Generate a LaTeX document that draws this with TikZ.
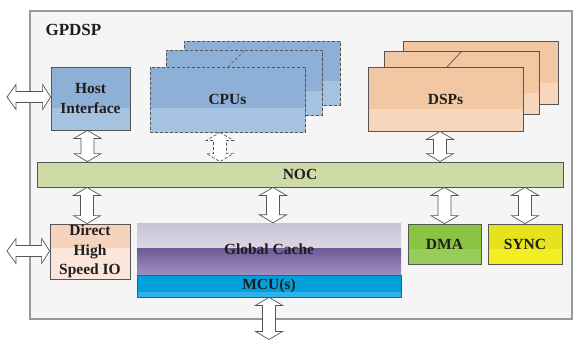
\documentclass[tikz,border=0pt]{standalone}
\usepackage{fontspec}
\setmainfont{Liberation Serif}
\usetikzlibrary{calc,shadows}
\definecolor{hostTop}{HTML}{8EB0D7}
\definecolor{hostBot}{HTML}{A5C2E1}
\definecolor{dspTop}{HTML}{F2C7A3}
\definecolor{dspBot}{HTML}{F6D6BC}
\definecolor{dhsTop}{HTML}{F5D3BD}
\definecolor{dhsBot}{HTML}{FAE6DA}
\definecolor{nocC}{HTML}{CFDAA9}
\definecolor{dmaTop}{HTML}{88C441}
\definecolor{dmaBot}{HTML}{96CC58}
\definecolor{syncTop}{HTML}{E6E21B}
\definecolor{syncBot}{HTML}{F2EE22}
\definecolor{mcuC}{HTML}{00A0DC}
\definecolor{mcuBand}{HTML}{2DB3EA}
\definecolor{purTop}{HTML}{6D5A98}
\definecolor{purBot}{HTML}{A090C0}
\definecolor{cacheTop}{HTML}{C8C3D6}
\definecolor{cacheBot}{HTML}{EFEFF1}
\definecolor{bgC}{HTML}{F5F5F5}
\definecolor{edgeC}{HTML}{555555}
\definecolor{txtC}{HTML}{1E1E1E}
\tikzset{
  box/.style={draw=edgeC, line width=0.8pt, inner sep=0pt, align=center,
    text=txtC, font=\bfseries\fontsize{15.5}{19.5}\selectfont,
    drop shadow={shadow xshift=1.3pt, shadow yshift=-1.3pt, opacity=0.22, fill=black}},
  twotone/.style n args={3}{fill=#1, path picture={\fill[#2]
    ($(path picture bounding box.south west)!#3!(path picture bounding box.north west)$)
    rectangle (path picture bounding box.south east);}},
  arrsty/.style={draw=edgeC, fill=white, line width=0.7pt, line join=miter},
  dsh/.style={dash pattern=on 3pt off 2pt},
}
\newcommand\varr[3][]{%
  \path[arrsty,#1] let \p1=(#2), \p2=(#3) in
    (\x1,\y1) -- ({\x1+13.5pt},{\y1-8pt}) -- ({\x1+6.5pt},{\y1-8pt})
    -- ({\x1+6.5pt},{\y2+8pt}) -- ({\x1+13.5pt},{\y2+8pt}) -- (\x1,\y2)
    -- ({\x1-13.5pt},{\y2+8pt}) -- ({\x1-6.5pt},{\y2+8pt})
    -- ({\x1-6.5pt},{\y1-8pt}) -- ({\x1-13.5pt},{\y1-8pt}) -- cycle;}
\newcommand\harr[3][]{%
  \path[arrsty,#1] let \p1=(#2), \p2=(#3) in
    (\x1,\y1) -- ({\x1+9pt},{\y1+12.5pt}) -- ({\x1+9pt},{\y1+5.5pt})
    -- ({\x2-8pt},{\y1+5.5pt}) -- ({\x2-8pt},{\y1+12.5pt}) -- (\x2,\y1)
    -- ({\x2-8pt},{\y1-12.5pt}) -- ({\x2-8pt},{\y1-5.5pt})
    -- ({\x1+9pt},{\y1-5.5pt}) -- ({\x1+9pt},{\y1-12.5pt}) -- cycle;}
\begin{document}
\begin{tikzpicture}[x=1pt,y=-1pt]
\useasboundingbox (0,0) rectangle (573,340);
% outer frame
\node[draw=black!40, line width=1.3pt, fill=bgC, inner sep=0pt,
  minimum width=542pt, minimum height=308pt] (frame) at (301,165) {};
\node[anchor=west, text=txtC, font=\bfseries\fontsize{17}{20}\selectfont] (title) at (42,30) {GPDSP};
% CPUs (dashed stack)
\node[box, dsh, twotone={hostTop}{hostBot}{0.37}, minimum width=156pt, minimum height=64pt] (cpu3) at (262,73) {};
\node[box, dsh, twotone={hostTop}{hostBot}{0.37}, minimum width=156pt, minimum height=65pt] (cpu2) at (244,82.5) {};
\node[box, dsh, twotone={hostTop}{hostBot}{0.37}, minimum width=155pt, minimum height=65pt] (cpu1) at (227.5,99.5) {CPUs};
\coordinate (cpud1) at (228,67);
\coordinate (cpud2) at (245,50);
\draw[edgeC, line width=0.7pt, dsh] (cpud1) -- (cpud2);
% DSPs stack
\node[box, twotone={dspTop}{dspBot}{0.34}, minimum width=155pt, minimum height=63pt] (dsp3) at (480.5,72.5) {};
\node[box, twotone={dspTop}{dspBot}{0.34}, minimum width=155pt, minimum height=63pt] (dsp2) at (461.5,82.5) {};
\node[box, twotone={dspTop}{dspBot}{0.34}, minimum width=155pt, minimum height=64pt] (dsp1) at (445.5,99) {DSPs};
\coordinate (dspd1) at (447,67);
\coordinate (dspd2) at (462,51);
\draw[edgeC, line width=0.7pt] (dspd1) -- (dspd2);
% Host interface
\node[box, twotone={hostTop}{hostBot}{0.35}, minimum width=79pt, minimum height=63pt] (host) at (90.5,98.5) {Host\\Interface};
% NOC
\node[box, fill=nocC, minimum width=526pt, minimum height=25pt] (noc) at (300,174.5) {NOC};
% Direct High Speed IO
\node[box, twotone={dhsTop}{dhsBot}{0.56}, minimum width=80pt, minimum height=55pt] (dhs) at (90,251.5) {Direct\\High\\Speed IO};
% Global cache
\node[inner sep=0pt, minimum width=264pt, minimum height=52pt, text=txtC,
  font=\bfseries\fontsize{15.5}{19.5}\selectfont,
  path picture={
    \shade[top color=cacheTop, bottom color=cacheBot]
      (path picture bounding box.north west) rectangle ($(path picture bounding box.east)+(0,1pt)$);
    \shade[top color=purTop, bottom color=purBot]
      ($(path picture bounding box.west)+(0,1pt)$) rectangle (path picture bounding box.south east);
  }] (cache) at (269,249) {Global Cache};
% MCU
\node[box, fill=mcuC, minimum width=264pt, minimum height=22pt,
  path picture={\fill[mcuBand] ($(path picture bounding box.south west)+(0,5pt)$) rectangle (path picture bounding box.south east);}] (mcu) at (269,286) {MCU(s)};
% DMA, SYNC
\node[box, twotone={dmaTop}{dmaBot}{0.38}, minimum width=73pt, minimum height=40pt] (dma) at (444.5,244) {DMA};
\node[box, twotone={syncTop}{syncBot}{0.38}, minimum width=74pt, minimum height=40pt] (sync) at (525,244) {SYNC};
% external coordinates
\coordinate (hostext) at (7,97);
\coordinate (dhsext) at (7,251);
\coordinate (mcuext) at (269,339.5);
% arrows
\harr{hostext}{hostext -| host.west}
\harr{dhsext}{dhsext -| dhs.west}
\varr{[xshift=-3pt]host.south}{[xshift=-3pt]host.south |- noc.north}
\varr[dsh]{[xshift=-7.5pt]cpu1.south}{[xshift=-7.5pt]cpu1.south |- noc.north}
\varr{[xshift=-5.5pt]dsp1.south}{[xshift=-5.5pt]dsp1.south |- noc.north}
\varr{[xshift=-3pt]dhs.north |- noc.south}{[xshift=-3pt]dhs.north}
\varr{[xshift=4pt]cache.north |- noc.south}{[xshift=4pt]cache.north}
\varr{dma.north |- noc.south}{dma.north}
\varr{sync.north |- noc.south}{sync.north}
\varr{mcu.south}{mcuext}
\end{tikzpicture}
\end{document}
